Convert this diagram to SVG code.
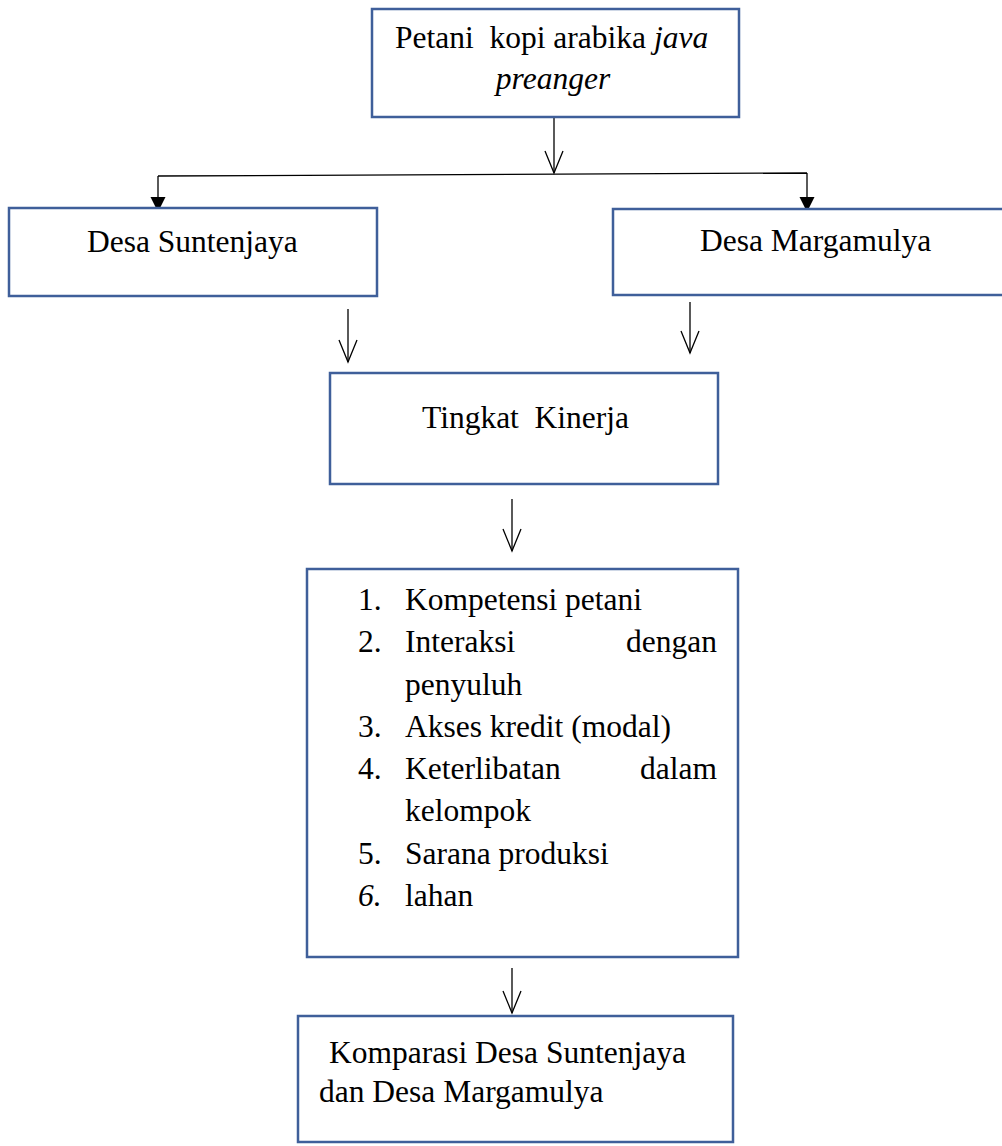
<svg xmlns="http://www.w3.org/2000/svg" width="1002" height="1146" viewBox="0 0 1002 1146">
<style>
.box{fill:#fff;stroke:#3f5f9a;stroke-width:2.5}
.t{font-family:"Liberation Serif","Times New Roman",serif;font-size:31.5px;fill:#000;white-space:pre}
.i{font-style:italic}
.ln{stroke:#000;stroke-width:1.3;fill:none}
.open{marker-end:url(#openV)}
.fill{marker-end:url(#solid)}
</style>
<defs>
<marker id="openV" markerUnits="userSpaceOnUse" markerWidth="30" markerHeight="30" refX="0" refY="0" orient="auto" overflow="visible">
<path d="M-22,-9 L0,0 L-22,9" fill="none" stroke="#000" stroke-width="1.3"/>
</marker>
<marker id="solid" markerUnits="userSpaceOnUse" markerWidth="30" markerHeight="30" refX="0" refY="0" orient="auto" overflow="visible">
<path d="M-15,-7.5 L0,0 L-15,7.5 Z" fill="#000"/>
</marker>
</defs>
<rect width="1002" height="1146" fill="#fff"/>
<g id="connectors">
<line class="ln open" x1="554" y1="117" x2="554" y2="173"/>
<line class="ln" x1="158" y1="176" x2="807" y2="173"/>
<line class="ln fill" x1="158" y1="176" x2="158" y2="212"/>
<line class="ln fill" x1="807" y1="173" x2="807" y2="212"/>
<line class="ln open" x1="348" y1="309" x2="348" y2="362"/>
<line class="ln open" x1="690" y1="302" x2="690" y2="353"/>
<line class="ln open" x1="512" y1="499" x2="512" y2="551"/>
<line class="ln open" x1="512" y1="968" x2="512" y2="1013"/>
</g>
<g id="petani">
<rect class="box" x="372" y="9" width="367" height="108"/>
<text class="t" x="395" y="48" xml:space="preserve">Petani  kopi arabika <tspan class="i">java</tspan></text>
<text class="t i" x="553" y="89" text-anchor="middle">preanger</text>
</g>
<g id="suntenjaya">
<rect class="box" x="9" y="208" width="368" height="88"/>
<text class="t" x="87" y="252">Desa Suntenjaya</text>
</g>
<g id="margamulya">
<rect class="box" x="613" y="209" width="400" height="86"/>
<text class="t" x="700" y="251">Desa Margamulya</text>
</g>
<g id="kinerja">
<rect class="box" x="330" y="373" width="388" height="111"/>
<text class="t" x="422" y="428" xml:space="preserve">Tingkat  Kinerja</text>
</g>
<g id="faktor">
<rect class="box" x="307" y="569" width="431" height="388"/>
<text class="t" x="358" y="610">1.</text>
<text class="t" x="405" y="610">Kompetensi petani</text>
<text class="t" x="358" y="652">2.</text>
<text class="t" x="405" y="652">Interaksi</text>
<text class="t" x="717" y="652" text-anchor="end">dengan</text>
<text class="t" x="405" y="695">penyuluh</text>
<text class="t" x="358" y="737">3.</text>
<text class="t" x="405" y="737">Akses kredit (modal)</text>
<text class="t" x="358" y="779">4.</text>
<text class="t" x="405" y="779">Keterlibatan</text>
<text class="t" x="717" y="779" text-anchor="end">dalam</text>
<text class="t" x="405" y="821">kelompok</text>
<text class="t" x="358" y="864">5.</text>
<text class="t" x="405" y="864">Sarana produksi</text>
<text class="t i" x="358" y="906">6.</text>
<text class="t" x="405" y="906">lahan</text>
</g>
<g id="komparasi">
<rect class="box" x="298" y="1016" width="435" height="126"/>
<text class="t" x="329" y="1063">Komparasi Desa Suntenjaya</text>
<text class="t" x="319" y="1102">dan Desa Margamulya</text>
</g>
</svg>
